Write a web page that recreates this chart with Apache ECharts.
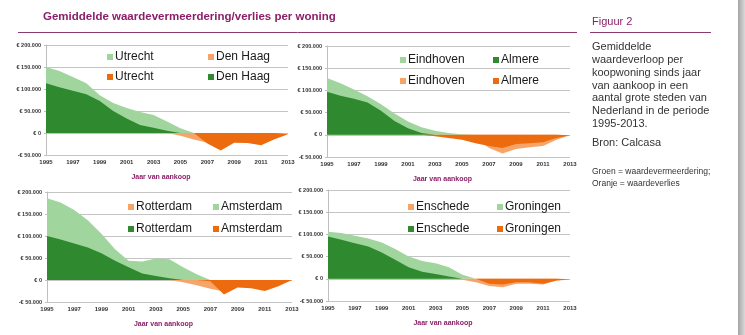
<!DOCTYPE html>
<html><head><meta charset="utf-8">
<script src="https://cdn.jsdelivr.net/npm/echarts@6/dist/echarts.min.js"></script>
<style>html,body{margin:0;padding:0;background:#fff}#c{width:745px;height:335px}</style>
</head><body><div id="c"></div>
<script>
const years = ['1995','1996','1997','1998','1999','2000','2001','2002','2003','2004','2005','2006','2007','2008','2009','2010','2011','2012','2013'];
const yTickValues = [-50000, 0, 50000, 100000, 150000, 200000];

const utrecht   = [150000,141000,127000,113000,86000,68000,57000,48000,41000,26000,11000,0,-24000,-40000,-22000,-23000,-28000,-14000,-3000];
const denHaag   = [113000,104000,96000,88000,73000,50000,33000,18000,12000,5000,-6000,-15000,-22000,-28000,-18000,-20000,-22000,-10000,-2000];
const eindhoven = [128000,116000,102000,87000,69000,48000,30000,17000,9000,4000,1000,-8000,-30000,-42000,-32000,-28000,-25000,-11000,-1000];
const almere    = [97000,88000,81000,73000,54000,31000,15000,4000,-3000,-7000,-11000,-19000,-25000,-30000,-21000,-19000,-17000,-7000,-1000];
const amsterdam = [186000,176000,159000,136000,105000,70000,44000,42000,49000,47000,29000,13000,-3000,-33000,-17000,-19000,-25000,-14000,0];
const rotterdam = [100000,92000,83000,74000,61000,44000,29000,15000,9000,4000,-5000,-12000,-20000,-26000,-14000,-15000,-18000,-10000,0];
const groningen = [106000,103000,97000,91000,82000,67000,50000,40000,35000,26000,9000,0,-11000,-13000,-8000,-8000,-11000,-4000,-1000];
const enschede  = [95000,88000,80000,73000,59000,43000,26000,16000,11000,5000,-2000,-8000,-16000,-19000,-11000,-11000,-13000,-4000,-2000];

const C = {lg:'#a0d69d', dg:'#2f8a2f', lo:'#f6a468', do:'#eb6b0e'};
const PURPLE = '#8c1f68';
const FONT = 'Liberation Sans, Arial, sans-serif';

const charts = [
  {lg:['Utrecht',utrecht], dg:['Den Haag',denHaag], lo:['Den Haag',denHaag], do:['Utrecht',utrecht],
   grid:{left:46,top:45,width:242,height:110},
   legend:[[107,57,'lg'],[208,57,'lo'],[107,77,'do'],[208,77,'dg']]},
  {lg:['Eindhoven',eindhoven], dg:['Almere',almere], lo:['Eindhoven',eindhoven], do:['Almere',almere],
   grid:{left:327,top:46,width:243,height:111},
   legend:[[400,60,'lg'],[493,60,'dg'],[400,81,'lo'],[493,81,'do']]},
  {lg:['Amsterdam',amsterdam], dg:['Rotterdam',rotterdam], lo:['Rotterdam',rotterdam], do:['Amsterdam',amsterdam],
   grid:{left:47,top:192,width:245,height:110},
   legend:[[128,207,'lo'],[213,207,'lg'],[128,229,'dg'],[213,229,'do']]},
  {lg:['Groningen',groningen], dg:['Enschede',enschede], lo:['Enschede',enschede], do:['Groningen',groningen],
   grid:{left:328,top:190,width:242,height:111},
   legend:[[408,207,'lo'],[497,207,'lg'],[408,229,'dg'],[497,229,'do']]}
];

function fmt(v){
  const a = Math.abs(v).toString().replace(/\B(?=(\d{3})+(?!\d))/g,'.');
  return (v<0?'-€ ':'€ ') + a;
}

const grids=[], xAxes=[], yAxes=[], series=[], legends=[];
charts.forEach((ch,i)=>{
  grids.push(ch.grid);
  xAxes.push({type:'category', gridIndex:i, data:years, boundaryGap:false,
    axisLine:{show:false}, axisTick:{show:false},
    axisLabel:{interval:1, fontSize:6, fontWeight:'bold', color:'#333', margin:4, fontFamily:FONT},
    name:'Jaar van aankoop', nameLocation:'middle', nameGap:19,
    nameTextStyle:{color:PURPLE, fontSize:7, fontWeight:'bold', fontFamily:FONT, padding:[0,12,0,0]}});
  yAxes.push({type:'value', gridIndex:i, min:yTickValues[0], max:yTickValues[yTickValues.length-1], interval:50000,
    axisLine:{show:true, lineStyle:{color:'#bfbfbf'}},
    axisTick:{show:true, length:2, lineStyle:{color:'#bfbfbf'}},
    splitLine:{lineStyle:{color:'#c4c4c4', width:1}},
    axisLabel:{formatter:fmt, fontSize:5.5, fontWeight:'bold', color:'#333', margin:5, fontFamily:FONT}});
  const mk = (key, sign) => {
    const [city, vals] = ch[key];
    const name = (key==='lo'||key==='do') ? city+' ' : city;
    return {type:'line', name:name, xAxisIndex:i, yAxisIndex:i, symbol:'none', silent:true,
      data: vals.map(v => sign>0 ? Math.max(0,v) : Math.min(0,v)),
      lineStyle:{width:0}, itemStyle:{color:C[key]},
      areaStyle:{color:C[key], opacity:1}, z: (key==='dg'||key==='do')?3:2};
  };
  series.push(mk('lg',1), mk('dg',1), mk('lo',-1), mk('do',-1));
  ch.legend.forEach(([x,y,key])=>{
    const [city] = ch[key];
    const name = (key==='lo'||key==='do') ? city+' ' : city;
    legends.push({left:x, top:y-7, padding:0, itemWidth:6, itemHeight:6, icon:'rect',
      selectedMode:false, data:[name], formatter:n=>n.trim(),
      textStyle:{fontSize:12, color:'#1a1a1a', fontFamily:FONT, lineHeight:14, padding:[0,0,0,-3]}});
  });
});

const side = ['Gemiddelde','waardeverloop per','koopwoning sinds jaar','van aankoop in een','aantal grote steden van','Nederland in de periode','1995-2013.'];
const sideY = [48,61,74,87,99,112,125];

const graphics = [
  {type:'text', left:43, top:10.5, style:{text:'Gemiddelde waardevermeerdering/verlies per woning', fill:PURPLE, font:'bold 11.5px '+FONT}},
  {type:'line', shape:{x1:18,y1:32.5,x2:577,y2:32.5}, style:{stroke:'#8a3a70', lineWidth:1}},
  {type:'text', left:592, top:16, style:{text:'Figuur 2', fill:PURPLE, font:'11px '+FONT}},
  {type:'line', shape:{x1:590,y1:32.5,x2:711,y2:32.5}, style:{stroke:'#8a3a70', lineWidth:1}},
  {type:'text', left:592, top:137.5, style:{text:'Bron: Calcasa', fill:'#333', font:'11px '+FONT}},
  {type:'text', left:592, top:167.5, style:{text:'Groen = waardevermeerdering;', fill:'#333', font:'8.5px '+FONT}},
  {type:'text', left:592, top:179, style:{text:'Oranje = waardeverlies', fill:'#333', font:'8.5px '+FONT}},
  {type:'rect', shape:{x:738,y:0,width:7,height:335}, style:{fill:new echarts.graphic.LinearGradient(0,0,1,0,[{offset:0,color:'#a5a5a5'},{offset:1,color:'#dadada'}])}}
];
side.forEach((t,k)=>graphics.push({type:'text', left:592, top:sideY[k]-6.5, style:{text:t, fill:'#333', font:'11px '+FONT}}));

const chart = echarts.init(document.getElementById('c'), null, {renderer:'canvas'});
chart.setOption({
  animation:false,
  textStyle:{fontFamily:FONT},
  grid:grids, xAxis:xAxes, yAxis:yAxes, series:series, legend:legends, graphic:graphics
});
</script></body></html>
